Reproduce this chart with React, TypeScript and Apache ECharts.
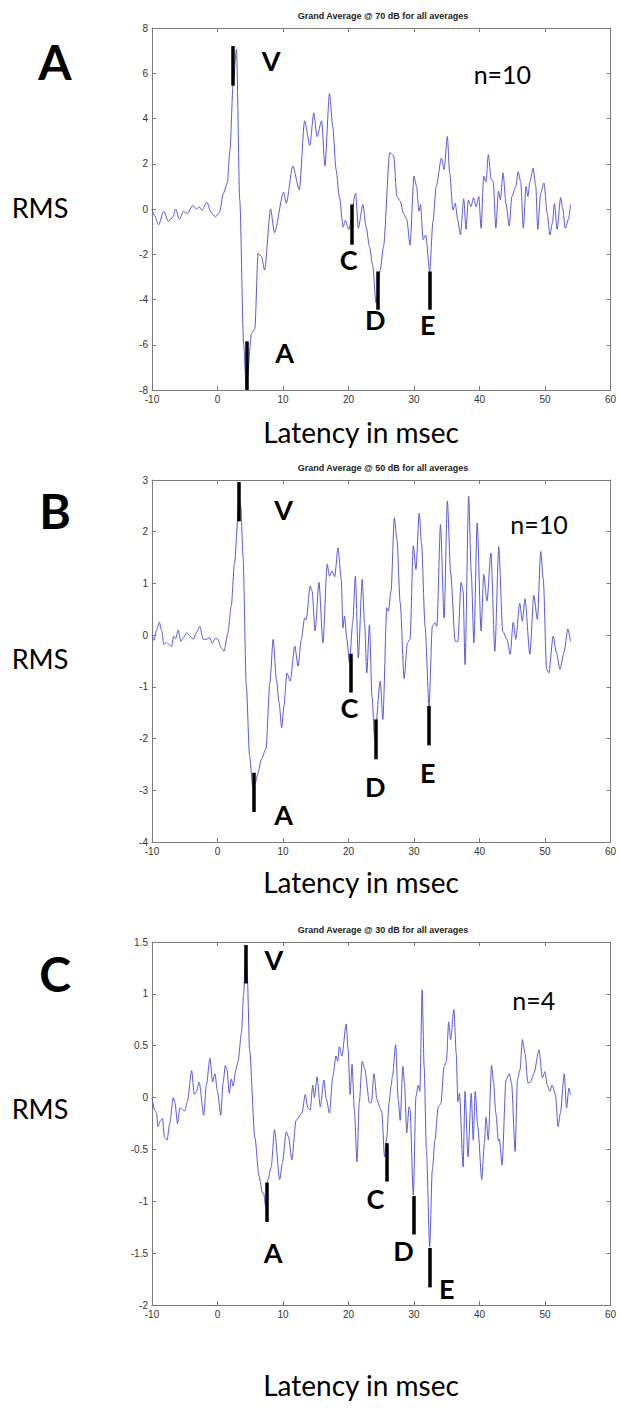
import React, { useEffect, useRef } from "react";
import * as echarts from "echarts";

// ---- Data (latency msec, RMS) ----
const traceA: number[][] = [
  [-10, 0], [-9.6, -0.3], [-9, -0.7], [-8.2, -0.1], [-7.5, -0.55], [-6.8, -0.35], [-6.4, 0], [-5.8, -0.45], [-5.2, -0.1], [-4.6, -0.2], [-3.8, 0.15], [-3.2, 0], [-2.8, 0.1], [-2.4, -0.05], [-1.6, 0.3], [-1, -0.15], [-0.3, -0.35], [0.3, -0.15], [0.9, 0.7], [1.5, 1.15], [1.9, 2.6], [2.4, 5.6], [2.9, 7.05], [3.4, 0.4], [4.0, -6.0], [4.4, -8], [5.2, -5.5], [5.7, -5.3], [6.2, -1.95], [6.7, -2.1], [7.2, -2.7], [8.1, 0], [8.7, -1.05], [10.1, 0.75], [10.5, 0.25], [11.5, 1.9], [12.5, 0.85], [13.3, 3.9], [14.1, 2.8], [14.7, 4.25], [15.2, 3.2], [15.9, 3.9], [16.4, 1.9], [17.1, 5.1], [17.6, 3.65], [18.1, 1.75], [18.6, 0.55], [19.2, -0.8], [19.5, -0.5], [20.05, -0.9], [21.1, 0.7], [21.5, -0.85], [22.2, 0.2], [22.7, -0.8], [23.2, -1.65], [23.7, -2.5], [24.2, -4.15], [24.85, -2.7], [25.35, -1.65], [26.3, 2.5], [26.9, 2.35], [27.4, 0.55], [27.9, 0.35], [28.4, -0.2], [28.9, -0.45], [29.4, -1.6], [30, 1.45], [30.4, 1.0], [30.75, -0.1], [31, 0.2], [31.4, -1.35], [31.8, -1.15], [32.4, -2.75], [32.9, -0.55], [33.4, 1.0], [34.2, 2.25], [34.6, 1.75], [35.1, 3.2], [35.45, 1.6], [35.95, -0.05], [36.3, 0.25], [36.7, -0.5], [37.1, -1.15], [37.6, 0.45], [37.95, -0.9], [38.3, 0.4], [38.7, 0.1], [39.1, 0.5], [39.5, 0.1], [39.9, 0.55], [40.25, -0.85], [40.65, 1.45], [41, 1.2], [41.35, 2.4], [41.8, 1.3], [42.1, 1.2], [42.5, -0.85], [42.9, 0.8], [43.2, 0.4], [43.6, 1.6], [44.05, 0.25], [44.55, -0.75], [44.95, 0.55], [45.55, 1.0], [45.9, 1.65], [46.3, 1.2], [46.7, -0.85], [47.1, 1.0], [47.4, 0.55], [47.7, 1.2], [48.2, 1.8], [48.6, 1.0], [48.9, -0.9], [49.35, 0.7], [49.85, 1.15], [50.35, -0.2], [50.75, -1.15], [51.15, -0.6], [51.45, 0.25], [51.85, -0.9], [52.4, 0.5], [52.7, 0.05], [53.1, -0.85], [53.6, -0.45], [53.9, 0.2],
];

const traceB: number[][] = [
  [-10, 0], [-9.7, -0.1], [-9.3, 0.1], [-8.9, 0.25], [-8.5, 0.08], [-8.2, -0.18], [-7.8, -0.14], [-7.4, -0.18], [-7, -0.22], [-6.7, -0.02], [-6.4, -0.07], [-6, 0.1], [-5.6, -0.12], [-5.2, -0.05], [-4.7, 0.05], [-4.2, -0.02], [-3.7, -0.08], [-3.2, 0.05], [-2.7, 0.17], [-2.2, -0.08], [-1.7, -0.08], [-1.2, -0.05], [-0.8, -0.16], [-0.4, -0.07], [0, -0.07], [0.6, -0.25], [1, -0.31], [1.6, 0.05], [2.1, 0.56], [2.6, 1.4], [3.3, 2.63], [3.55, 2.5], [3.9, 1.53], [4.4, -0.98], [4.9, -2.34], [5.4, -2.95], [5.8, -2.85], [6.2, -2.66], [6.7, -2.4], [7.4, -2.2], [8, -0.92], [8.5, -0.08], [9, -0.86], [9.4, -1.3], [9.8, -1.79], [10.15, -1.37], [10.6, -0.73], [11.1, -0.89], [11.8, -0.21], [12.3, -0.6], [12.8, -0.08], [13.3, 0.33], [13.55, 0.3], [14.15, 0.95], [14.45, 0.85], [14.9, 0.08], [15.5, 1.02], [16.1, -0.15], [16.75, 1.37], [17.1, 1.14], [17.5, 1.24], [17.9, 1.13], [18.4, 1.69], [18.9, 1.08], [19.15, 0.14], [19.4, 0.37], [19.75, -0.08], [20.15, -0.53], [20.65, 0.24], [21.05, 1.14], [21.5, -0.44], [22.1, 1.08], [22.45, 0.24], [22.8, -0.73], [23.2, 0.2], [23.6, -1.2], [24, -2.0], [24.85, -0.89], [25.25, -1.63], [25.85, 0.53], [26.1, 0.46], [26.5, 0.85], [27, 2.27], [27.4, 1.85], [27.9, 0.62], [28.5, -0.84], [29, -0.15], [29.4, -0.08], [29.9, 1.73], [30.3, 1.27], [30.8, 2.36], [31.15, 1.78], [31.7, 0.17], [32.3, -1.37], [32.8, 0.17], [33.2, 0.24], [33.5, 0.17], [34.05, 2.14], [34.6, 0.33], [35.1, 2.59], [35.6, 1.2], [36.3, -0.12], [36.7, -0.12], [37.2, 1.02], [37.5, 0.85], [37.8, -0.57], [38.35, 2.69], [38.75, 1.2], [39.15, -0.15], [39.65, 2.17], [40.25, 0.08], [40.65, 1.17], [41.15, 0.66], [41.75, 1.59], [42.35, -0.31], [42.95, 1.71], [43.55, 0.08], [44.2, -0.08], [44.7, -0.37], [45.15, 0.25], [45.55, -0.08], [46.15, 0.62], [46.55, 0.27], [46.95, 0.7], [47.7, -0.37], [48.3, 0.77], [48.85, 0.3], [49.35, 1.62], [49.75, 1.08], [50.25, -0.66], [50.6, -0.73], [51.25, -0.02], [51.75, -0.34], [52.3, -0.66], [52.9, -0.34], [53.5, 0.12], [53.9, -0.12],
];

const traceC: number[][] = [
  [-10, 0], [-9.6, -0.12], [-9.3, -0.15], [-9.1, -0.28], [-8.7, -0.22], [-8.4, -0.2], [-8.1, -0.38], [-7.7, -0.41], [-7.3, -0.25], [-6.75, 0], [-6.5, -0.05], [-6.1, -0.25], [-5.75, -0.1], [-5.3, -0.12], [-5, -0.13], [-4.6, -0.04], [-3.95, 0.26], [-3.55, 0.03], [-3.2, 0.06], [-2.8, 0.15], [-2.1, -0.17], [-1.7, 0.12], [-1.15, 0.38], [-0.75, 0.15], [-0.4, 0.23], [0, 0.06], [0.5, -0.17], [0.85, 0.14], [1.2, 0.31], [1.45, 0.27], [1.8, 0.04], [2.1, 0.18], [2.4, 0.11], [2.8, 0.27], [3.15, 0.35], [3.65, 0.62], [4.0, 1.0], [4.3, 1.46], [4.55, 1.17], [4.9, 0.46], [5.7, -0.38], [6.35, -0.76], [6.85, -0.92], [7.05, -0.92], [7.35, -1.05], [7.7, -0.79], [8.2, -0.67], [8.7, -0.31], [9.5, -0.79], [9.9, -0.63], [10.5, -0.33], [10.85, -0.38], [11.35, -0.6], [12, -0.22], [12.9, -0.15], [13.4, 0.03], [13.8, -0.1], [14.15, -0.12], [14.55, 0.12], [14.8, 0.0], [15.2, 0.2], [15.7, -0.09], [16.25, 0.17], [16.6, -0.01], [17.1, -0.15], [17.6, 0.2], [18.1, 0.4], [18.35, 0.35], [18.6, 0.49], [19, 0.4], [19.65, 0.71], [19.95, 0.46], [20.25, 0.03], [20.55, 0.32], [20.9, -0.12], [21.3, -0.62], [21.65, -0.05], [22.1, 0.35], [22.5, 0.27], [23.2, -0.05], [23.5, -0.05], [23.9, 0.23], [24.35, -0.02], [24.85, -0.1], [25.1, -0.15], [25.5, -0.57], [25.85, -0.38], [26.2, -0.05], [26.5, 0.11], [26.7, 0.2], [27.2, 0.51], [27.6, -0.02], [27.9, -0.22], [28.3, 0.3], [28.55, 0.14], [28.9, -0.34], [29.25, -0.09], [29.4, -0.12], [29.9, -0.94], [30.3, 0.01], [30.65, 0.12], [30.9, 0.06], [31.25, 1.04], [31.55, 0.3], [31.9, -0.5], [32.4, -1.44], [32.8, -0.7], [33.2, -0.41], [33.7, -0.09], [34.1, -0.06], [34.6, 0.3], [34.95, 0.35], [35.3, 0.73], [35.6, 0.56], [36.1, 0.85], [36.45, 0.43], [36.7, -0.04], [36.95, 0.04], [37.5, -0.67], [37.8, 0.06], [38.25, -0.57], [38.75, 0.04], [39.05, -0.41], [39.35, 0.06], [39.75, -0.28], [40.35, -0.79], [40.75, -0.44], [41, -0.19], [41.35, -0.41], [41.85, 0.31], [42.15, 0.14], [42.5, -0.15], [42.9, -0.42], [43.05, -0.4], [43.45, -0.65], [44.05, 0.17], [44.55, 0.23], [44.9, 0.14], [45.45, -0.52], [45.8, 0.17], [46.2, 0.27], [46.55, 0.56], [46.95, 0.43], [47.4, 0.14], [47.8, 0.15], [48.3, 0.23], [49.1, 0.46], [49.6, 0.19], [50, 0.25], [50.35, 0.12], [50.75, 0.06], [51.1, 0.12], [51.6, 0.03], [52, -0.28], [52.35, -0.15], [52.95, 0.23], [53.3, -0.1], [53.65, 0.09], [53.9, 0.03],
];

// Wave marker bars: [latency, yFrom, yTo]
const barsA: number[][] = [[2.4, 5.45, 7.2], [4.4, -8.0, -5.85], [20.5, -1.58, 0.2], [24.4, -4.45, -2.76], [32.4, -4.45, -2.76]];
const barsB: number[][] = [[3.2, 2.2, 2.96], [5.6, -3.42, -2.66], [20.3, -1.11, -0.36], [24.1, -2.4, -1.63], [32.3, -2.13, -1.37]];
const barsC: number[][] = [[4.3, 1.1, 1.47], [7.45, -1.2, -0.82], [25.85, -0.81, -0.44], [29.9, -1.32, -0.95], [32.4, -1.83, -1.45]];

// Wave letter labels: [latency, y]
const waveNames = ["V", "A", "C", "D", "E"];
const labelPosA: number[][] = [[8.2, 6.55], [10.25, -6.35], [20.05, -2.25], [24.1, -4.9], [32.1, -5.1]];
const labelPosB: number[][] = [[10.1, 2.43], [10.1, -3.46], [20.15, -1.4], [24.1, -2.92], [32.1, -2.66]];
const labelPosC: number[][] = [[8.6, 1.33], [8.5, -1.49], [24.1, -0.97], [28.4, -1.47], [35.0, -1.84]];

const countLabels = ["n=10", "n=10", "n=4"];
const countPos: number[][] = [[43.5, 5.95], [49.1, 2.14], [48.3, 0.94]];

const panelLetters = ["A", "B", "C"];
const titles = [
  "Grand Average @ 70 dB for all averages",
  "Grand Average @ 50 dB for all averages",
  "Grand Average @ 30 dB for all averages",
];
const xTicks = { min: -10, max: 60, interval: 10 };
const yRanges = [
  { min: -8, max: 8, interval: 2 },
  { min: -4, max: 3, interval: 1 },
  { min: -2, max: 1.5, interval: 0.5 },
];
const xTitle = "Latency in msec";
const yTitle = "RMS";

// ---- layout ----
const grids = [
  { left: 152, top: 28, width: 462, height: 362 },
  { left: 152, top: 480, width: 462, height: 362 },
  { left: 152, top: 942, width: 462, height: 363 },
];
const letterY = [61, 510, 973];
const rmsY = [207, 658, 1108];
const xTitleY = [432, 882, 1385];

const CAL = "Lato, 'Open Sans', sans-serif";
const ARIAL = "'Liberation Sans', Arial, sans-serif";
const AXIS_COLOR = "#7a7a7a";

export default function App() {
  const ref = useRef<HTMLDivElement>(null);
  useEffect(() => {
    if (!ref.current) return;
    const chart = echarts.init(ref.current, undefined, { renderer: "svg" });
    const traces = [traceA, traceB, traceC];
    const bars = [barsA, barsB, barsC];
    const labels = [labelPosA, labelPosB, labelPosC];

    const xAxis: any[] = [];
    const yAxis: any[] = [];
    const series: any[] = [];
    const graphic: any[] = [];

    grids.forEach((g, i) => {
      const tick = { show: true, inside: true, length: 4, lineStyle: { color: AXIS_COLOR } };
      const line = { show: true, onZero: false, lineStyle: { color: AXIS_COLOR, width: 1 } };
      xAxis.push({
        type: "value", gridIndex: i, position: "bottom", ...xTicks,
        axisLine: line, axisTick: tick, splitLine: { show: false },
        axisLabel: { color: "#333", fontSize: 10, fontFamily: ARIAL, margin: 4 },
      });
      xAxis.push({
        type: "value", gridIndex: i, position: "top", ...xTicks,
        axisLine: line, axisTick: tick, splitLine: { show: false }, axisLabel: { show: false },
      });
      yAxis.push({
        type: "value", gridIndex: i, position: "left", ...yRanges[i],
        axisLine: line, axisTick: tick, splitLine: { show: false },
        axisLabel: { color: "#333", fontSize: 10, fontFamily: ARIAL, margin: 4 },
      });
      yAxis.push({
        type: "value", gridIndex: i, position: "right", ...yRanges[i],
        axisLine: line, axisTick: tick, splitLine: { show: false }, axisLabel: { show: false },
      });

      series.push({
        type: "line",
        xAxisIndex: i * 2,
        yAxisIndex: i * 2,
        data: traces[i],
        showSymbol: false,
        smooth: 0.25,
        smoothMonotone: "x",
        lineStyle: { color: "#5a5ad6", width: 1 },
        z: 2,
        markLine: {
          silent: true,
          symbol: ["none", "none"],
          label: { show: false },
          lineStyle: { color: "#000", width: 3.5, type: "solid", opacity: 1 },
          data: bars[i].map((b) => [{ coord: [b[0], b[1]] }, { coord: [b[0], b[2]] }]),
        },
      });
      series.push({
        type: "scatter",
        xAxisIndex: i * 2,
        yAxisIndex: i * 2,
        symbolSize: 1,
        itemStyle: { color: "rgba(0,0,0,0)" },
        silent: true,
        z: 5,
        data: [
          ...labels[i].map((p, k) => ({
            value: p,
            name: waveNames[k],
            label: { fontSize: 27, fontWeight: "bold", color: "#000", opacity: 1 },
          })),
          {
            value: countPos[i],
            name: countLabels[i],
            label: { fontSize: 25, fontWeight: "normal", color: "#000", opacity: 1 },
          },
        ],
        label: {
          show: true,
          position: "inside",
          formatter: (p: any) => p.name,
          color: "#000",
          opacity: 1,
          textBorderWidth: 0,
          fontFamily: CAL,
        },
      });

      graphic.push({
        type: "text",
        x: g.left + g.width / 2,
        y: g.top - 12,
        style: {
          text: titles[i], align: "center", verticalAlign: "middle",
          fontSize: 9, fontWeight: "bold", fontFamily: ARIAL, fill: "#222",
        },
      });
      graphic.push({
        type: "text", x: 55, y: letterY[i],
        style: {
          text: panelLetters[i], align: "center", verticalAlign: "middle",
          fontSize: 48, fontWeight: "bold", fontFamily: CAL, fill: "#000",
        },
      });
      graphic.push({
        type: "text", x: 40, y: rmsY[i],
        style: {
          text: yTitle, align: "center", verticalAlign: "middle",
          fontSize: 27, fontFamily: CAL, fill: "#000",
        },
      });
      graphic.push({
        type: "text", x: 361, y: xTitleY[i],
        style: {
          text: xTitle, align: "center", verticalAlign: "middle",
          fontSize: 28, fontFamily: CAL, fill: "#000",
        },
      });
    });

    chart.setOption({
      animation: false,
      backgroundColor: "#fff",
      grid: grids.map((g) => ({ ...g, containLabel: false })),
      xAxis,
      yAxis,
      series,
      graphic,
    });
    return () => chart.dispose();
  }, []);
  return (
    <div
      ref={ref}
      style={{ position: "absolute", left: 0, top: 0, width: 619, height: 1412, background: "#fff" }}
    />
  );
}
